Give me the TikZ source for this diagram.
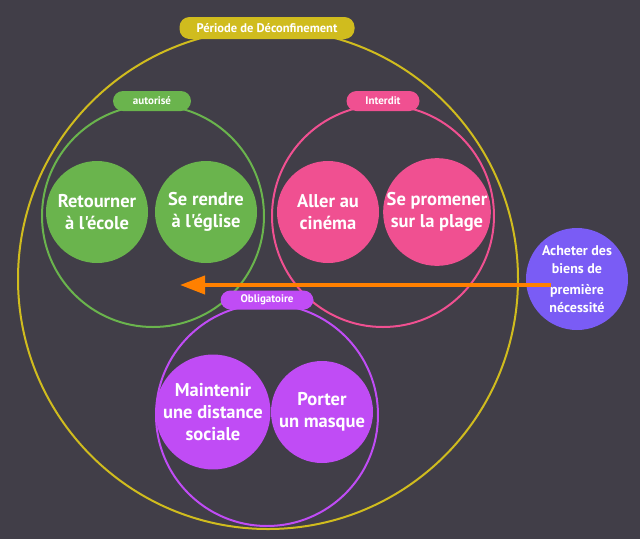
\documentclass[tikz,border=0pt]{standalone}
\usepackage{fontspec}
\setmainfont{PT Sans}[Ligatures=TeXOff]
\usetikzlibrary{arrows.meta}
\definecolor{bg}{RGB}{65,62,72}
\definecolor{cyel}{RGB}{208,188,30}
\definecolor{cgreen}{RGB}{106,180,77}
\definecolor{cpink}{RGB}{240,80,145}
\definecolor{cpurple}{RGB}{192,76,245}
\definecolor{cviolet}{RGB}{122,92,245}
\definecolor{corange}{RGB}{255,128,0}
\tikzset{
  ring/.style={circle, draw=#1, line width=2pt, inner sep=0pt},
  pill/.style={fill=#1, rounded corners=10pt, text=white, inner sep=0pt, font=\bfseries\fontsize{11}{13}\selectfont},
  item/.style={circle, fill=#1, inner sep=0pt, minimum size=102pt, text=white, align=center, font=\bfseries\fontsize{18.5}{22}\selectfont},
  arrowline/.style={draw=corange, line width=4pt, -{Triangle[length=25pt,width=18pt]}}
}
\begin{document}
\begin{tikzpicture}[x=1pt,y=-1pt]
\fill[bg] (0,0) rectangle (640,539);
\useasboundingbox (0,0) rectangle (640,539);
% outer
\node[ring=cyel, minimum size=500pt] (outer) at (268,279) {};
\node[ring=cgreen, minimum size=222pt] (green) at (153,216) {};
\node[ring=cpink, minimum size=222pt] (pink) at (383,216) {};
\node[ring=cpurple, minimum size=222pt] (purple) at (267,415) {};
% labels
\node[pill=cyel, minimum width=175pt, minimum height=22pt, font=\bfseries\fontsize{12.5}{14}\selectfont] (lout) at (267,28) {Période de Déconfinement};
\node[pill=cgreen, minimum width=78pt, minimum height=20pt] (lgreen) at (152,101) {autorisé};
\node[pill=cpink, minimum width=73pt, minimum height=20pt] (lpink) at (383,101) {Interdit};
% items
\node[item=cgreen] (ecole) at (97,212) {Retourner\\à l'école};
\node[item=cgreen] (eglise) at (206,212) {Se rendre\\à l'église};
\node[item=cpink] (cinema) at (328,212) {Aller au\\cinéma};
\node[item=cpink] (plage) at (437,212) {Se promener\\sur la plage};
\node[item=cpurple] (distance) at (213,412) {Maintenir\\une distance\\sociale};
\node[item=cpurple] (masque) at (322,412) {Porter\\un masque};
\node[item=cviolet, font=\bfseries\fontsize{14}{17.5}\selectfont] (buy) at (577,279) {Acheter des\\biens de\\[4pt]première\\nécessité};
\node[pill=cpurple, minimum width=93pt, minimum height=19pt] (lpurple) at (267,300) {Obligatoire};
% arrow
\coordinate (tip) at (180,285);
\draw[arrowline, shorten <=26pt] (buy.center |- tip) -- (tip);
\end{tikzpicture}
\end{document}
